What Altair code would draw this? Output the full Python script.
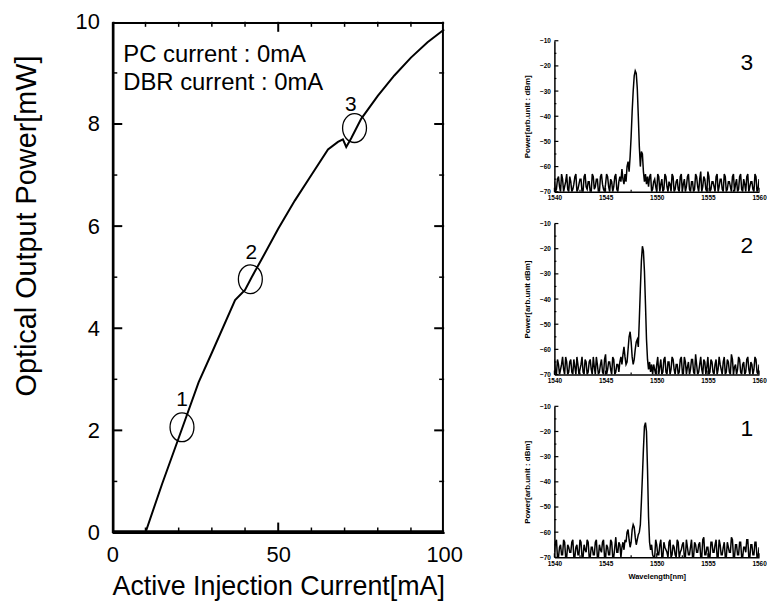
import altair as alt
import pandas as pd

FONT = "Liberation Sans"

# ---------------- main L-I curve ----------------
current = [0, 10, 15, 20, 26, 30, 37, 40, 42, 45, 50, 55, 60, 65, 68, 69.5, 70.5, 72, 75, 80, 85, 90, 95, 100]
power = [0, 0, 0.95, 1.85, 2.94, 3.52, 4.55, 4.75, 5.0, 5.35, 5.95, 6.5, 7.0, 7.5, 7.65, 7.7, 7.55, 7.72, 8.1, 8.55, 8.95, 9.3, 9.6, 9.85]

circle_x = [21.0, 41.6, 73.0]
circle_y = [2.06, 4.96, 7.92]
num_x = [21.0, 41.9, 71.9]
num_y = [2.6, 5.47, 8.37]
num_text = ["1", "2", "3"]

note_x = [3.3, 3.3]
note_y = [9.22, 8.66]
note_text = ["PC current : 0mA", "DBR current : 0mA"]

x_minor = [10, 20, 30, 40, 60, 70, 80, 90]
x_major = [50]
y_minor = [1, 3, 5, 7, 9]
y_major = [2, 4, 6, 8]

# ---------------- spectra ----------------
# noise floor samples at 1540.0, 1540.2, ... (a) and 1540.1, 1540.3, ... (b)
noise3a = [-66, -69, -64, -70, -65, -68, -63, -70, -66, -69,
           -64, -70, -67, -65, -70, -63, -69, -66, -70, -64,
           -68, -65, -70, -63, -69, -67, -64, -70, -66, -68,
           -63, -70, -65, -69, -64, -70, -67, -66, -70, -62,
           -69, -65, -70, -64, -68, -66, -70, -63, -69, -65,
           -70, -64, -67, -70, -63, -68, -66, -70, -64, -69,
           -65, -70, -63, -67, -70, -64, -69, -66, -70, -63,
           -68, -65, -70, -64, -69, -62, -70, -66, -68, -64,
           -70, -65, -69, -63, -70, -66, -68, -64, -70, -65,
           -69, -63, -70, -67, -64, -70, -66, -69, -63, -70,
           -65]
noise3b = [-70, -65, -68, -63, -70, -66, -69, -64, -70, -67,
           -63, -69, -65, -70, -64, -68, -66, -70, -63, -69,
           -65, -70, -64, -67, -70, -63, -68, -65, -70, -64,
           -69, -66, -70, -63, -68, -65, -70, -64, -69, -66,
           -70, -63, -67, -70, -65, -69, -64, -70, -66, -68,
           -63, -70, -65, -69, -64, -70, -67, -63, -70, -66,
           -69, -64, -70, -65, -68, -63, -70, -66, -69, -64,
           -70, -62, -68, -65, -70, -64, -69, -66, -70, -63,
           -68, -65, -70, -64, -69, -66, -70, -63, -67, -70,
           -64, -69, -65, -70, -63, -68, -66, -70, -64, -69]
noise2a = [-64, -70, -66, -68, -63, -70, -65, -69, -64, -70,
           -67, -63, -70, -66, -69, -64, -70, -65, -68, -63,
           -70, -66, -69, -64, -70, -62, -68, -65, -70, -64,
           -69, -66, -70, -63, -68, -65, -70, -64, -69, -67,
           -70, -63, -66, -70, -64, -69, -65, -70, -63, -68,
           -66, -70, -64, -69, -63, -70, -65, -68, -64, -70,
           -66, -69, -63, -70, -65, -67, -70, -64, -69, -62,
           -70, -66, -68, -64, -70, -63, -69, -65, -70, -64,
           -68, -66, -70, -63, -69, -65, -70, -64, -67, -70,
           -63, -69, -66, -70, -64, -68, -65, -70, -63, -69,
           -66]
noise2b = [-69, -64, -70, -66, -68, -63, -70, -65, -69, -64,
           -70, -66, -68, -63, -70, -65, -69, -64, -70, -67,
           -63, -70, -66, -69, -64, -70, -65, -68, -63, -70,
           -66, -69, -64, -70, -62, -68, -65, -70, -64, -69,
           -66, -70, -63, -68, -65, -70, -64, -69, -66, -70,
           -63, -67, -70, -64, -69, -65, -70, -63, -68, -66,
           -70, -64, -69, -63, -70, -65, -68, -64, -70, -66,
           -69, -63, -70, -65, -67, -70, -64, -69, -66, -70,
           -63, -68, -65, -70, -64, -69, -62, -70, -66, -68,
           -64, -70, -65, -69, -63, -70, -66, -68, -64, -70]
noise1a = [-68, -63, -70, -65, -69, -64, -70, -66, -68, -63,
           -70, -65, -69, -64, -70, -67, -63, -70, -66, -69,
           -64, -70, -65, -68, -63, -70, -66, -69, -64, -70,
           -62, -68, -65, -70, -64, -69, -66, -70, -63, -68,
           -65, -70, -64, -69, -63, -70, -66, -68, -64, -70,
           -65, -69, -63, -70, -66, -68, -64, -70, -65, -69,
           -63, -70, -67, -64, -70, -66, -69, -63, -70, -65,
           -68, -64, -70, -62, -69, -66, -70, -64, -68, -63,
           -70, -65, -69, -64, -70, -66, -68, -63, -70, -65,
           -69, -64, -70, -66, -63, -70, -65, -69, -64, -70,
           -66]
noise1b = [-64, -70, -66, -69, -63, -70, -65, -68, -64, -70,
           -66, -69, -63, -70, -65, -68, -64, -70, -66, -69,
           -63, -70, -67, -64, -70, -65, -69, -63, -70, -66,
           -68, -64, -70, -65, -69, -63, -70, -66, -68, -64,
           -70, -62, -69, -65, -70, -64, -68, -66, -70, -63,
           -69, -65, -70, -64, -67, -70, -63, -69, -66, -70,
           -64, -68, -65, -70, -63, -69, -66, -70, -64, -68,
           -65, -70, -63, -69, -66, -70, -64, -68, -65, -70,
           -63, -69, -66, -70, -64, -68, -62, -70, -65, -69,
           -64, -70, -66, -68, -63, -70, -65, -69, -64, -70]

peak3_wl = [1546.4, 1546.5, 1546.6, 1546.7, 1546.8, 1546.9, 1547.0, 1547.1, 1547.2, 1547.3,
            1547.4, 1547.5, 1547.6, 1547.7, 1547.8, 1547.9, 1548.0, 1548.1, 1548.2, 1548.3,
            1548.4, 1548.5, 1548.6, 1548.7, 1548.8, 1548.9, 1549.0, 1549.1, 1549.2]
peak3_pw = [-64, -66, -61, -65, -67, -63, -66, -60, -58, -62,
            -56, -48, -38, -30, -24, -22, -23, -29, -40, -52,
            -60, -54, -55, -62, -66, -63, -67, -64, -68]

peak2_wl = [1546.4, 1546.5, 1546.6, 1546.7, 1546.8, 1546.9, 1547.0, 1547.1, 1547.2, 1547.3,
            1547.4, 1547.5, 1547.6, 1547.7, 1547.8, 1547.9, 1548.0, 1548.1, 1548.2, 1548.3,
            1548.4, 1548.5, 1548.6, 1548.7, 1548.8, 1548.9, 1549.0, 1549.1, 1549.2, 1549.3,
            1549.4, 1549.5, 1549.6]
peak2_pw = [-65, -63, -66, -62, -59, -63, -66, -65, -60, -55,
            -53, -57, -63, -66, -64, -60, -57, -56, -59, -48,
            -36, -25, -19, -21, -29, -42, -56, -64, -68, -65,
            -69, -66, -70]

peak1_wl = [1546.6, 1546.7, 1546.8, 1546.9, 1547.0, 1547.1, 1547.2, 1547.3, 1547.4, 1547.5,
            1547.6, 1547.7, 1547.8, 1547.9, 1548.0, 1548.1, 1548.2, 1548.3, 1548.4, 1548.5,
            1548.6, 1548.7, 1548.8, 1548.9, 1549.0, 1549.1, 1549.2, 1549.3, 1549.4, 1549.5,
            1549.6]
peak1_pw = [-66, -64, -67, -63, -64, -60, -59, -63, -66, -64,
            -59, -57, -58, -62, -65, -63, -61, -60, -57, -48,
            -38, -27, -18, -16.5, -20, -35, -54, -64, -67, -65,
            -69]

spec_xticks = [1540, 1545, 1550, 1555, 1560]
spec_xminor = [1542.5, 1547.5, 1552.5, 1557.5]
spec_yticks = [-10, -20, -30, -40, -50, -60, -70]
spec_yminor = [-15, -25, -35, -45, -55, -65]

# ======================================================


def tick_rows(xdom, ydom, w, h, xvals, yvals, length, sides):
    """Inward tick marks as rule segments; length given in pixels."""
    lx = length * (ydom[1] - ydom[0]) / h
    ly = length * (xdom[1] - xdom[0]) / w
    rows = []
    for v in xvals:
        if "bottom" in sides:
            rows.append({"a": v, "a2": v, "b": ydom[0], "b2": ydom[0] + lx})
        if "top" in sides:
            rows.append({"a": v, "a2": v, "b": ydom[1], "b2": ydom[1] - lx})
    for v in yvals:
        if "left" in sides:
            rows.append({"a": xdom[0], "a2": xdom[0] + ly, "b": v, "b2": v})
        if "right" in sides:
            rows.append({"a": xdom[1], "a2": xdom[1] - ly, "b": v, "b2": v})
    return rows


def frame_rows(xdom, ydom, w, h, inset_px):
    """Box around the plot area, drawn a hair inside the edges."""
    dx = inset_px * (xdom[1] - xdom[0]) / w
    dy = inset_px * (ydom[1] - ydom[0]) / h
    x0, x1 = xdom[0] + dx, xdom[1] - dx
    y0, y1 = ydom[0] + dy, ydom[1] - dy
    return [{"a": xdom[0], "a2": xdom[1], "b": y0, "b2": y0},
            {"a": xdom[0], "a2": xdom[1], "b": y1, "b2": y1},
            {"a": x0, "a2": x0, "b": ydom[0], "b2": ydom[1]},
            {"a": x1, "a2": x1, "b": ydom[0], "b2": ydom[1]}]


def rule_layer(rows, xdom, ydom, xaxis, yaxis, sw):
    d = pd.DataFrame(rows)
    xs_ = alt.Scale(domain=list(xdom), nice=False)
    ys_ = alt.Scale(domain=list(ydom), nice=False)
    return alt.Chart(d).mark_rule(color="black", strokeWidth=sw).encode(
        x=alt.X("a:Q", scale=xs_, axis=xaxis), x2="a2:Q",
        y=alt.Y("b:Q", scale=ys_, axis=yaxis), y2="b2:Q")


W, H = 334, 514
XD, YD = (0, 100), (0, 10)
xs = alt.Scale(domain=list(XD), nice=False)
ys = alt.Scale(domain=list(YD), nice=False)

main_xaxis = alt.Axis(values=[0, 50, 100], labelFontSize=22, labelPadding=12,
                      ticks=False, domain=True, domainColor="black", domainWidth=2,
                      grid=False, labelColor="black",
                      labelFlush=False, labelOverlap=False,
                      title="Active Injection Current[mA]", titleFontSize=27,
                      titleFontWeight="normal", titlePadding=8, titleColor="black")
main_yaxis = alt.Axis(values=[0, 2, 4, 6, 8, 10], labelFontSize=22, labelPadding=13,
                      ticks=False, domain=True, domainColor="black", domainWidth=2,
                      grid=False, labelColor="black",
                      labelFlush=False, labelOverlap=False,
                      title="Optical Output Power[mW]", titleFontSize=29,
                      titleFontWeight="normal", titleColor="black",
                      titleX=-100, titleY=205, titleBaseline="top", titleAngle=270)

df_main = pd.DataFrame({"current": current, "power": power})
curve = alt.Chart(df_main).mark_line(color="black", strokeWidth=2).encode(
    x=alt.X("current:Q", scale=xs, axis=main_xaxis),
    y=alt.Y("power:Q", scale=ys, axis=main_yaxis),
)

ellipse_path = "M -0.83 0 A 0.83 1 0 1 1 0.83 0 A 0.83 1 0 1 1 -0.83 0 Z"
circ = alt.Chart(pd.DataFrame({"cx": circle_x, "cy": circle_y})).mark_point(
    shape=ellipse_path, size=841, filled=False, color="black", strokeWidth=1.3, opacity=1
).encode(x=alt.X("cx:Q", scale=xs, axis=main_xaxis), y=alt.Y("cy:Q", scale=ys, axis=main_yaxis))

nums = alt.Chart(pd.DataFrame({"nx": num_x, "ny": num_y, "t": num_text})).mark_text(
    fontSize=21, color="black", baseline="middle", align="center"
).encode(x=alt.X("nx:Q", scale=xs, axis=main_xaxis), y=alt.Y("ny:Q", scale=ys, axis=main_yaxis), text="t:N")

notes = alt.Chart(pd.DataFrame({"nx": note_x, "ny": note_y, "t": note_text})).mark_text(
    fontSize=24, color="black", baseline="alphabetic", align="left"
).encode(x=alt.X("nx:Q", scale=xs, axis=main_xaxis), y=alt.Y("ny:Q", scale=ys, axis=main_yaxis), text="t:N")

all_sides = ("bottom", "top", "left", "right")
main = alt.layer(
    curve, circ, nums, notes,
    rule_layer(tick_rows(XD, YD, W, H, x_minor, y_minor, 5, all_sides),
               XD, YD, main_xaxis, main_yaxis, 1.5),
    rule_layer(tick_rows(XD, YD, W, H, x_major, y_major, 10, all_sides)
               + frame_rows(XD, YD, W, H, 1.2),
               XD, YD, main_xaxis, main_yaxis, 2),
).properties(width=W, height=H)

# ---------------- spectra panels ----------------
SW, SH = 206, 152
SXD, SYD = (1540, 1560), (-70, -10)
sxs = alt.Scale(domain=list(SXD), nice=False)
sys_ = alt.Scale(domain=list(SYD), nice=False)


def spectrum(noise_a, noise_b, pk_wl, pk_pw, label, ytitle, xtitle=None):
    samples = [(round(1540 + 0.2 * i, 1), n) for i, n in enumerate(noise_a)]
    samples += [(round(1540.1 + 0.2 * i, 1), n) for i, n in enumerate(noise_b)]
    wl, pw = [], []
    for g, n in samples:
        if g < pk_wl[0] - 1e-6 or g > pk_wl[-1] + 1e-6:
            wl.append(g)
            pw.append(n)
    wl += pk_wl
    pw += pk_pw
    d = pd.DataFrame({"wl": wl, "pw": pw}).sort_values("wl")
    xaxis = dict(values=spec_xticks, labelFontSize=6.5, labelFontWeight="bold",
                 labelPadding=3, ticks=False, domain=True, domainColor="black",
                 domainWidth=1.5, grid=False, labelColor="black", format="d",
                 labelFlush=False, labelOverlap=False)
    if xtitle:
        xaxis.update(title=xtitle, titleFontSize=7.5, titleFontWeight="bold",
                     titlePadding=6, titleColor="black")
    else:
        xaxis.update(title="")
    yaxis = dict(values=spec_yticks, labelFontSize=6.5, labelFontWeight="bold",
                 labelPadding=4, ticks=False, domain=True, domainColor="black",
                 domainWidth=1.5, grid=False, labelColor="black",
                 labelFlush=False, labelOverlap=False,
                 title=ytitle, titleFontSize=8, titleFontWeight="bold",
                 titlePadding=8, titleColor="black")
    xa = alt.Axis(**xaxis)
    ya = alt.Axis(**yaxis)
    ln = alt.Chart(d).mark_line(color="black", strokeWidth=1.5, clip=True).encode(
        x=alt.X("wl:Q", scale=sxs, axis=xa),
        y=alt.Y("pw:Q", scale=sys_, axis=ya),
    )
    lab = alt.Chart(pd.DataFrame({"lx": [1558.8], "ly": [-19], "t": [label]})).mark_text(
        fontSize=23, color="black", align="center", baseline="middle"
    ).encode(x=alt.X("lx:Q", scale=sxs, axis=xa), y=alt.Y("ly:Q", scale=sys_, axis=ya), text="t:N")
    return alt.layer(
        ln, lab,
        rule_layer(tick_rows(SXD, SYD, SW, SH, spec_xticks, spec_yticks, 4, ("bottom", "left")),
                   SXD, SYD, xa, ya, 1.2),
        rule_layer(tick_rows(SXD, SYD, SW, SH, spec_xminor, spec_yminor, 2, ("bottom", "left")),
                   SXD, SYD, xa, ya, 1.2),
    ).properties(width=SW, height=SH)


p3 = spectrum(noise3a, noise3b, peak3_wl, peak3_pw, "3", "Power[arb.unit : dBm]")
p2 = spectrum(noise2a, noise2b, peak2_wl, peak2_pw, "2", "Power[arb.unit  dBm]")
p1 = spectrum(noise1a, noise1b, peak1_wl, peak1_pw, "1", "Power[arb.unit : dBm]", "Wavelength[nm]")

spacer = alt.Chart(pd.DataFrame({"s": [0]})).mark_point(opacity=0).encode(
    x=alt.value(0), y=alt.value(0)).properties(width=SW, height=1)

spectra = alt.vconcat(spacer, alt.vconcat(p3, p2, p1, spacing=19), spacing=13)

chart = alt.hconcat(main, spectra, spacing=60).properties(
    padding={"left": 5, "top": 1, "right": 0, "bottom": 0}
).configure(font=FONT).configure_view(stroke=None)

chart.save("out.html", embed_options={"renderer": "svg", "actions": False})
